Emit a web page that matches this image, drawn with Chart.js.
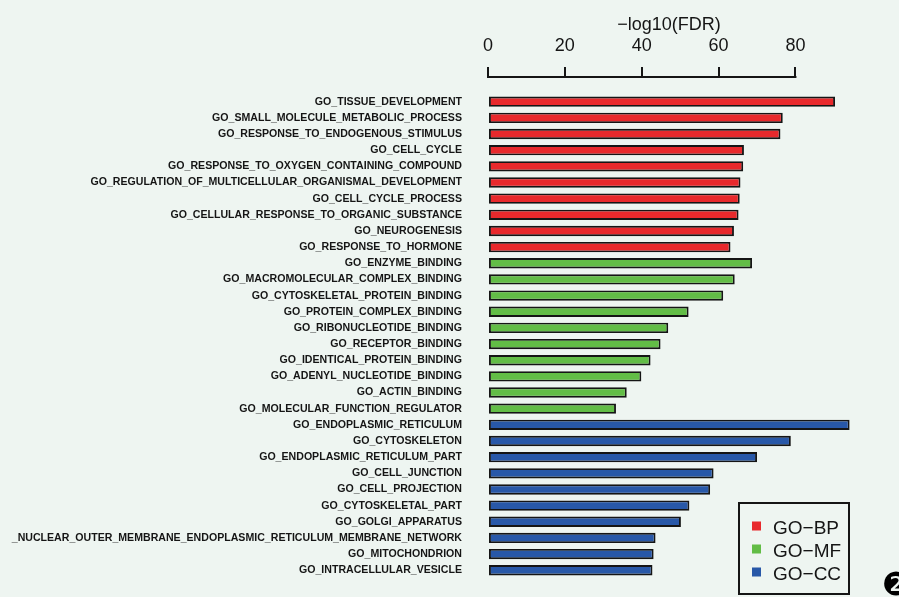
<!DOCTYPE html>
<html>
<head>
<meta charset="utf-8">
<script src="https://cdn.jsdelivr.net/npm/chart.js@4"></script>
<style>
  html, body { margin: 0; padding: 0; background: #EEF5F1; }
  #wrap { width: 899px; height: 597px; }
</style>
</head>
<body>
<div id="wrap"><canvas id="c" width="899" height="597"></canvas></div>
<script>
const bpLabels = [
  "GO_TISSUE_DEVELOPMENT",
  "GO_SMALL_MOLECULE_METABOLIC_PROCESS",
  "GO_RESPONSE_TO_ENDOGENOUS_STIMULUS",
  "GO_CELL_CYCLE",
  "GO_RESPONSE_TO_OXYGEN_CONTAINING_COMPOUND",
  "GO_REGULATION_OF_MULTICELLULAR_ORGANISMAL_DEVELOPMENT",
  "GO_CELL_CYCLE_PROCESS",
  "GO_CELLULAR_RESPONSE_TO_ORGANIC_SUBSTANCE",
  "GO_NEUROGENESIS",
  "GO_RESPONSE_TO_HORMONE"
];
const bpValues = [90.3, 76.7, 76.1, 66.6, 66.4, 65.7, 65.5, 65.2, 64.0, 63.1];

const mfLabels = [
  "GO_ENZYME_BINDING",
  "GO_MACROMOLECULAR_COMPLEX_BINDING",
  "GO_CYTOSKELETAL_PROTEIN_BINDING",
  "GO_PROTEIN_COMPLEX_BINDING",
  "GO_RIBONUCLEOTIDE_BINDING",
  "GO_RECEPTOR_BINDING",
  "GO_IDENTICAL_PROTEIN_BINDING",
  "GO_ADENYL_NUCLEOTIDE_BINDING",
  "GO_ACTIN_BINDING",
  "GO_MOLECULAR_FUNCTION_REGULATOR"
];
const mfValues = [68.7, 64.2, 61.2, 52.2, 46.9, 44.9, 42.3, 39.9, 36.1, 33.3];

const ccLabels = [
  "GO_ENDOPLASMIC_RETICULUM",
  "GO_CYTOSKELETON",
  "GO_ENDOPLASMIC_RETICULUM_PART",
  "GO_CELL_JUNCTION",
  "GO_CELL_PROJECTION",
  "GO_CYTOSKELETAL_PART",
  "GO_GOLGI_APPARATUS",
  "_NUCLEAR_OUTER_MEMBRANE_ENDOPLASMIC_RETICULUM_MEMBRANE_NETWORK",
  "GO_MITOCHONDRION",
  "GO_INTRACELLULAR_VESICLE"
];
const ccValues = [94.1, 78.8, 70.0, 58.7, 57.8, 52.4, 50.2, 43.6, 43.1, 42.8];

const groupNames = ["GO\u2212BP", "GO\u2212MF", "GO\u2212CC"];
const groupColors = ["#E8292C", "#62BD46", "#2858A8"];
const xTicks = [0, 20, 40, 60, 80];
const xTitle = "\u2212log10(FDR)";

const allLabels = bpLabels.concat(mfLabels, ccLabels);
const groups = [bpValues, mfValues, ccValues];
let offset = 0;
const datasets = groups.map((vals, g) => {
  const start = offset;
  offset += vals.length;
  return {
    label: groupNames[g],
    data: vals.map((v, i) => ({ x: v, y: start + i })),
    backgroundColor: groupColors[g],
    borderColor: "#151515",
    borderWidth: 1.9,
    borderSkipped: false,
    grouped: false,
    categoryPercentage: 1,
    barPercentage: 0.64
  };
});

const bgPlugin = {
  id: "bg",
  beforeDraw(chart) {
    const ctx = chart.ctx;
    ctx.save();
    ctx.fillStyle = "#EEF5F1";
    ctx.fillRect(0, 0, chart.width, chart.height);
    ctx.restore();
  }
};

const axisLinePlugin = {
  id: "axisLine",
  afterDraw(chart) {
    const xs = chart.scales.x;
    const ctx = chart.ctx;
    const y = xs.bottom;
    ctx.save();
    ctx.strokeStyle = "#151515";
    ctx.lineWidth = 2;
    ctx.beginPath();
    ctx.moveTo(xs.getPixelForValue(xTicks[0]) - 1, y - 1);
    ctx.lineTo(xs.getPixelForValue(xTicks[xTicks.length - 1]) + 1, y - 1);
    ctx.stroke();
    ctx.restore();
  }
};

const legendPlugin = {
  id: "boxLegend",
  afterDraw(chart) {
    const ctx = chart.ctx;
    ctx.save();
    ctx.fillStyle = "#EEF5F1";
    ctx.fillRect(739, 503, 110, 91);
    ctx.strokeStyle = "#151515";
    ctx.lineWidth = 2;
    ctx.strokeRect(739, 503, 110, 91);
    ctx.font = "19px 'Liberation Sans', Arial, sans-serif";
    ctx.textBaseline = "alphabetic";
    ctx.textAlign = "left";
    chart.data.datasets.forEach((ds, i) => {
      const base = 534 + i * 23;
      ctx.fillStyle = ds.backgroundColor;
      ctx.fillRect(752, base - 12.5, 9, 9);
      ctx.fillStyle = "#151515";
      ctx.fillText(ds.label, 773, base);
    });
    ctx.font = "32px 'DejaVu Sans', sans-serif";
    ctx.textAlign = "center";
    ctx.textBaseline = "middle";
    ctx.fillStyle = "#000";
    ctx.fillText("\u2777", 896, 587);
    ctx.restore();
  }
};

new Chart(document.getElementById("c"), {
  type: "bar",
  data: { datasets },
  plugins: [bgPlugin, axisLinePlugin, legendPlugin],
  options: {
    indexAxis: "y",
    responsive: false,
    animation: false,
    events: [],
    layout: { padding: { left: 0, right: 49, top: 0, bottom: 19 } },
    plugins: {
      legend: { display: false },
      tooltip: { enabled: false },
      title: { display: false }
    },
    scales: {
      x: {
        type: "linear",
        position: "top",
        min: 0,
        max: 94.2,
        afterBuildTicks(scale) { scale.ticks = xTicks.map(v => ({ value: v })); },
        afterFit(scale) {
          scale.height = 78;
          scale.paddingLeft = 0; scale.paddingRight = 0;
          scale.paddingTop = 0; scale.paddingBottom = 0;
        },
        border: { display: false },
        grid: {
          display: true,
          drawOnChartArea: false,
          drawTicks: true,
          tickLength: 11,
          color: "#151515",
          lineWidth: 2
        },
        ticks: {
          padding: 10,
          color: "#151515",
          font: { family: "'Liberation Sans', Arial, sans-serif", size: 18 },
          maxRotation: 0,
          autoSkip: false
        },
        title: {
          display: true,
          text: xTitle,
          color: "#151515",
          font: { family: "'Liberation Sans', Arial, sans-serif", size: 18 },
          padding: { top: 14, bottom: 0 }
        }
      },
      y: {
        type: "linear",
        reverse: true,
        offset: false,
        min: -1.467,
        max: 29.48,
        afterBuildTicks(scale) { scale.ticks = allLabels.map((_, i) => ({ value: i })); },
        afterFit(scale) {
          scale.width = 488;
          scale.paddingTop = 0; scale.paddingBottom = 0;
          scale.paddingLeft = 0; scale.paddingRight = 0;
        },
        border: { display: false },
        grid: { display: false, drawTicks: false, offset: false },
        ticks: {
          padding: 26,
          autoSkip: false,
          color: "#151515",
          font: { family: "'Liberation Sans', Arial, sans-serif", size: 10.6, weight: "bold" },
          callback: (v) => allLabels[v] !== undefined ? allLabels[v] : ""
        }
      }
    }
  }
});
</script>
</body>
</html>
